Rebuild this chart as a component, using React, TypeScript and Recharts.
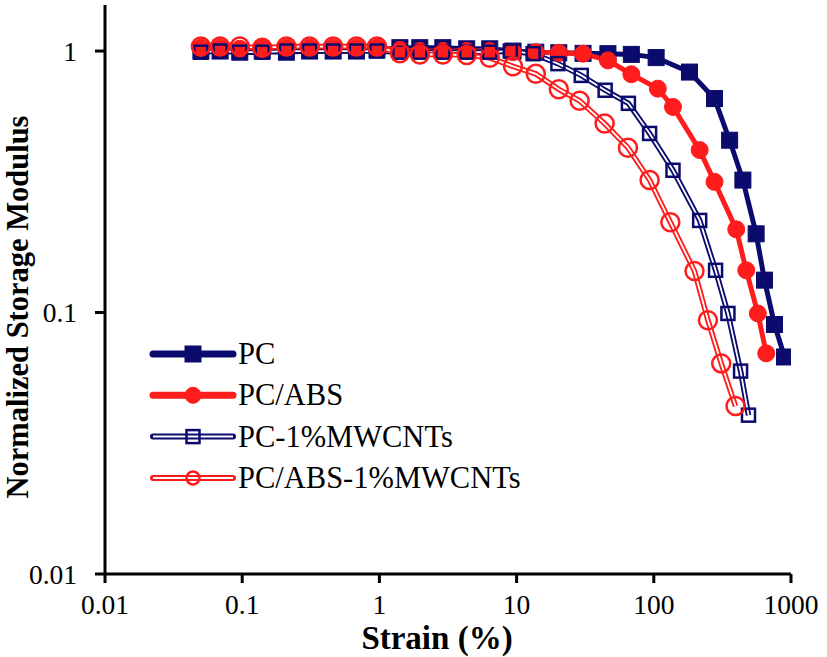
import React from "react";
import {
  LineChart,
  Line,
  XAxis,
  YAxis,
  Label,
} from "recharts";

// strain (%) values
const lowStrain = [
  0.05, 0.069, 0.096, 0.14, 0.21, 0.31, 0.46, 0.68, 0.96, 1.41, 1.97, 2.9, 4.33,
];

const pcStrain = [
  ...lowStrain, 6.37, 9.42, 13.8, 20.3, 30.5, 46.3, 68.6, 104, 182, 277, 357,
  446, 557, 641, 758, 897,
];
const pcModulus = [
  1.0, 1.0, 0.99, 1.0, 0.99, 1.0, 1.0, 1.0, 1.01, 1.03, 1.03, 1.03, 1.02, 1.02,
  1.0, 0.99, 0.985, 0.98, 0.977, 0.971, 0.944, 0.831, 0.658, 0.456, 0.321, 0.2,
  0.133, 0.09, 0.0676,
];

const pcAbsStrain = [
  ...lowStrain, 6.37, 9.42, 13.8, 20.3, 30.5, 46.3, 68.6, 107, 138, 216, 277,
  399, 472, 573, 660,
];
const pcAbsModulus = [
  1.03, 1.03, 1.02, 1.03, 1.03, 1.03, 1.03, 1.03, 1.03, 1.01, 1.0, 1.0, 1.0,
  1.0, 0.99, 0.99, 0.985, 0.977, 0.921, 0.815, 0.718, 0.611, 0.418, 0.316,
  0.208, 0.145, 0.0992, 0.0698,
];

const pcCntStrain = [
  ...lowStrain, 6.37, 9.0, 13.2, 20, 29.6, 44.2, 65.3, 93.2, 138, 216, 282, 347,
  429, 490,
];
const pcCntModulus = [
  0.99, 1.0, 0.99, 0.99, 1.0, 1.0, 1.0, 1.0, 1.0, 0.99, 0.99, 0.99, 0.99, 0.99,
  1.0, 0.977, 0.895, 0.807, 0.708, 0.631, 0.484, 0.35, 0.225, 0.145, 0.0992,
  0.0597, 0.0405,
];

const pcAbsCntStrain = [
  ...lowStrain, 6.37, 9.42, 13.8, 20.3, 28.8, 43.8, 64.8, 93.2, 132, 198, 248,
  310, 394,
];
const pcAbsCntModulus = [
  1.04, 1.04, 1.04, 1.03, 1.04, 1.04, 1.04, 1.04, 1.04, 0.98, 0.97, 0.97, 0.965,
  0.942, 0.874, 0.818, 0.714, 0.645, 0.528, 0.427, 0.321, 0.2215, 0.144, 0.0935,
  0.0639, 0.0439,
];

const xTicks = [0.01, 0.1, 1, 10, 100, 1000];
const yTicks = [0.01, 0.1, 1];

const NAVY = "#0b0b6e";
const RED = "#ff1c1c";
const FONT = "'Liberation Serif', 'Times New Roman', serif";

const toPoints = (xs: number[], ys: number[]) =>
  xs.map((x, i) => ({ x, y: ys[i] }));

const pcData = toPoints(pcStrain, pcModulus);
const pcAbsData = toPoints(pcAbsStrain, pcAbsModulus);
const pcCntData = toPoints(pcCntStrain, pcCntModulus);
const pcAbsCntData = toPoints(pcAbsCntStrain, pcAbsCntModulus);

const legendItems = [
  { name: "PC", color: NAVY, shape: "square", filled: true },
  { name: "PC/ABS", color: RED, shape: "circle", filled: true },
  { name: "PC-1%MWCNTs", color: NAVY, shape: "square", filled: false },
  { name: "PC/ABS-1%MWCNTs", color: RED, shape: "circle", filled: false },
];

const Marker = ({ cx, cy, shape, filled, color, size }: any) => {
  if (cx == null || cy == null) return null;
  if (shape === "square") {
    return (
      <rect
        x={cx - size / 2}
        y={cy - size / 2}
        width={size}
        height={size}
        fill={filled ? color : "none"}
        stroke={color}
        strokeWidth={filled ? 1 : 2.5}
      />
    );
  }
  return (
    <circle
      cx={cx}
      cy={cy}
      r={size / 2}
      fill={filled ? color : "none"}
      stroke={color}
      strokeWidth={filled ? 1 : 2.5}
    />
  );
};

const dotFn = (shape: string, filled: boolean, color: string, size: number) =>
  (props: any) => (
    <Marker
      key={`${shape}-${props.index}`}
      cx={props.cx}
      cy={props.cy}
      shape={shape}
      filled={filled}
      color={color}
      size={size}
    />
  );

// legend drawn on top of the plot, bottom-left
const ChartLegend = () => (
  <svg
    width={420}
    height={175}
    style={{ position: "absolute", left: 140, top: 330, pointerEvents: "none" }}
  >
    {legendItems.map((it, i) => {
      const y = 24 + i * 41.3;
      return (
        <g key={it.name}>
          <line x1={13} x2={93} y1={y} y2={y} stroke={it.color} strokeWidth={it.filled ? 7 : 6} strokeLinecap="round" />
          {!it.filled && (
            <line x1={13} x2={93} y1={y} y2={y} stroke="#fff" strokeWidth={2} />
          )}
          <Marker
            cx={53}
            cy={y}
            shape={it.shape}
            filled={it.filled}
            color={it.color}
            size={it.filled ? 16 : 13}
          />
          <text x={98} y={y + 10} fontFamily={FONT} fontSize={30.5} fill="#000">
            {it.name}
          </text>
        </g>
      );
    })}
  </svg>
);

const tickStyle = { fontFamily: FONT, fontSize: 27.5, fill: "#000" };

export default function App() {
  return (
    <div style={{ position: "absolute", left: 0, top: 0, width: 827, height: 657, background: "#fff" }}>
      <LineChart
        width={827}
        height={657}
        margin={{ top: 5, right: 36, left: 0, bottom: 0 }}
      >
        <XAxis
          dataKey="x"
          type="number"
          scale="log"
          domain={[0.01, 1000]}
          ticks={xTicks}
          allowDataOverflow
          height={83}
          axisLine={{ stroke: "#000", strokeWidth: 3 }}
          tickLine={{ stroke: "#000", strokeWidth: 3 }}
          tickSize={9}
          tickMargin={11}
          tick={tickStyle}
          interval={0}
        >
          <Label
            content={() => (
              <text
                x={437}
                y={649}
                textAnchor="middle"
                fontFamily={FONT}
                fontWeight="bold"
                fontSize={33}
                fill="#000"
              >
                Strain (%)
              </text>
            )}
          />
        </XAxis>
        <XAxis
          xAxisId="top"
          orientation="top"
          dataKey="x"
          type="number"
          scale="log"
          domain={[0.01, 1000]}
          allowDataOverflow
          height={0}
          tick={false}
          tickLine={false}
          axisLine={{ stroke: "#000", strokeWidth: 2.5 }}
        />
        <YAxis
          dataKey="y"
          type="number"
          scale="log"
          domain={[0.01, 1.5]}
          ticks={yTicks}
          allowDataOverflow
          width={105}
          axisLine={{ stroke: "#000", strokeWidth: 3 }}
          tickLine={{ stroke: "#000", strokeWidth: 3 }}
          tickSize={10}
          tickMargin={18}
          tick={tickStyle}
          interval={0}
        >
          <Label
            content={() => (
              <text
                x={28}
                y={307}
                transform="rotate(-90 28 307)"
                textAnchor="middle"
                fontFamily={FONT}
                fontWeight="bold"
                fontSize={30.5}
                fill="#000"
              >
                Normalized Storage Modulus
              </text>
            )}
          />
        </YAxis>
        <YAxis
          yAxisId="right"
          orientation="right"
          type="number"
          scale="log"
          domain={[0.01, 1.5]}
          allowDataOverflow
          width={0}
          tick={false}
          tickLine={false}
          axisLine={{ stroke: "#000", strokeWidth: 3 }}
        />

        {/* PC */}
        <Line
          data={pcData}
          dataKey="y"
          name="PC"
          type="linear"
          stroke={NAVY}
          strokeWidth={5}
          dot={dotFn("square", true, NAVY, 16)}
          activeDot={false}
          isAnimationActive={false}
        />
        {/* PC/ABS */}
        <Line
          data={pcAbsData}
          dataKey="y"
          name="PC/ABS"
          type="linear"
          stroke={RED}
          strokeWidth={5}
          dot={dotFn("circle", true, RED, 17)}
          activeDot={false}
          isAnimationActive={false}
        />
        {/* PC-1%MWCNTs, double line */}
        <Line
          data={pcCntData}
          dataKey="y"
          name="PC-1%MWCNTs"
          type="linear"
          stroke={NAVY}
          strokeWidth={5.5}
          dot={false}
          activeDot={false}
          isAnimationActive={false}
        />
        <Line
          data={pcCntData}
          dataKey="y"
          name="pc-cnt-inner"
          legendType="none"
          type="linear"
          stroke="#fff"
          strokeWidth={1.8}
          dot={dotFn("square", false, NAVY, 13)}
          activeDot={false}
          isAnimationActive={false}
        />
        {/* PC/ABS-1%MWCNTs, double line */}
        <Line
          data={pcAbsCntData}
          dataKey="y"
          name="PC/ABS-1%MWCNTs"
          type="linear"
          stroke={RED}
          strokeWidth={5.5}
          dot={false}
          activeDot={false}
          isAnimationActive={false}
        />
        <Line
          data={pcAbsCntData}
          dataKey="y"
          name="pc-abs-cnt-inner"
          legendType="none"
          type="linear"
          stroke="#fff"
          strokeWidth={1.8}
          dot={dotFn("circle", false, RED, 18)}
          activeDot={false}
          isAnimationActive={false}
        />
      </LineChart>
      <ChartLegend />
    </div>
  );
}
